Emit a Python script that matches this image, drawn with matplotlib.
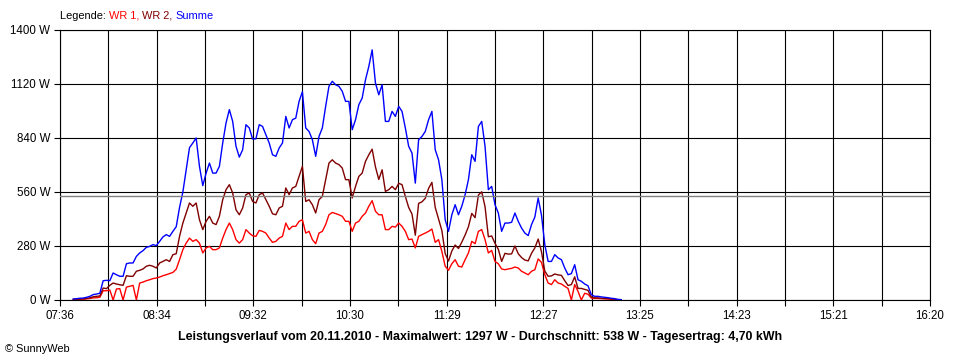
import matplotlib
matplotlib.use("Agg")
import matplotlib.pyplot as plt
import numpy as np

# ---------------- data ----------------
START_MIN = 7 * 60 + 44   # first sample 07:44
STEP_MIN = 2              # sampling interval (minutes)

summe = [5, 7, 9, 10, 14, 19, 28, 31, 35,
         100, 102, 100, 140, 131, 123, 123, 188, 192, 192, 226, 244, 256, 273, 278, 287, 282, 304, 327, 339, 330, 356, 380,
         480, 560, 675, 790, 814, 840, 693, 593, 658, 710, 658, 658, 693, 814, 918, 987, 926, 797, 741, 779, 909, 892, 835, 836,
         909, 900, 857, 814, 753, 745, 788, 814, 952, 892, 935,
         943, 1030, 1080, 892, 874, 831, 745, 848, 892, 1004, 1108, 1134, 1116, 1108, 1082, 1030, 1030, 883, 935, 1013, 1047,
         1142, 1211, 1297, 1125, 1064, 1116, 926, 926, 978, 952, 1004, 978, 892, 797,
         762, 606, 831, 848, 874, 935, 978, 779, 727, 624, 416, 356, 442, 494, 442, 486, 546, 624, 753, 719, 900, 926, 797,
         572, 589, 494, 451, 356, 399, 399, 403, 451, 408, 373,
         347, 334, 391, 430, 529, 440, 287, 200, 200, 235, 218, 209, 166, 131, 137, 183, 105, 97, 83, 74, 28, 19, 19, 16,
         14, 12, 9, 7, 3, 2]

wr1 = [2, 3, 4, 4, 6, 8, 11, 12, 14,
       48, 48, 52, 0, 57, 59, 0, 67, 71, 76, 0, 88, 93, 100, 105, 111, 114, 119, 126, 131, 137, 143, 160,
       209, 261, 295, 321, 304, 313, 295, 244, 270, 278, 261, 261, 270, 321, 365, 399, 365, 313, 295, 313, 365, 347, 333,
       330, 361, 356, 347, 321, 299, 304, 321, 330, 399, 365, 382,
       382, 408, 416, 347, 356, 313, 292, 347, 356, 391, 442, 454, 448, 442, 434, 408, 408, 356, 399, 408, 434, 451, 486,
       515, 460, 442, 442, 365, 365, 382, 378, 399, 382, 356, 313,
       316, 270, 330, 339, 347, 356, 368, 299, 313, 252, 175, 154, 188, 209, 175, 171, 209, 244, 304, 292, 356, 365, 313,
       244, 257, 200, 188, 161, 157, 161, 164, 171, 166, 149,
       140, 131, 149, 157, 213, 195, 131, 88, 80, 105, 88, 83, 71, 60, 0, 80, 45, 0, 35, 30, 10, 8, 8, 7, 6, 5, 4, 3, 1, 1]

wr2 = [3, 4, 5, 6, 8, 11, 17, 19, 21,
       62, 59, 76, 88, 83, 79, 76, 126, 123, 123, 149, 154, 161, 175, 180, 175, 166, 192, 200, 209, 200, 235, 240,
       330, 399, 451, 503, 486, 503, 416, 365, 408, 434, 399, 391, 434, 520, 572, 598, 555, 468, 442, 477, 546, 555, 511,
       503, 546, 555, 520, 486, 447, 442, 477, 486, 581, 546, 581,
       589, 641, 693, 511, 520, 494, 451, 520, 537, 624, 710, 727, 710, 702, 684, 624, 624, 529, 589, 641, 658, 719, 753,
       782, 690, 625, 675, 563, 572, 589, 572, 605, 598, 537, 480,
       446, 336, 501, 509, 527, 579, 610, 480, 420, 360, 241, 202, 254, 285, 267, 300, 337, 380, 449, 427, 544, 561, 484,
       328, 332, 294, 263, 200, 242, 238, 239, 280, 240, 220,
       207, 203, 242, 270, 316, 250, 150, 123, 125, 135, 130, 128, 100, 75, 80, 120, 60, 60, 55, 50, 15, 11, 11, 9, 8, 7,
       5, 4, 2, 1]

x_labels = ["07:36", "08:34", "09:32", "10:30", "11:29", "12:27", "13:25", "14:23", "15:21", "16:20"]
x_start_min = 7 * 60 + 36
x_end_min = 16 * 60 + 20
y_ticks = [0, 280, 560, 840, 1120, 1400]
y_labels = ["0 W", "280 W", "560 W", "840 W", "1120 W", "1400 W"]
average_w = 538
footer = ("Leistungsverlauf vom 20.11.2010 - Maximalwert: 1297 W - "
          "Durchschnitt: 538 W - Tagesertrag: 4,70 kWh")

# ---------------- style ----------------
plt.rcParams["font.family"] = ["Liberation Sans", "DejaVu Sans"]
FS = 8.3
C_WR1 = "#ff0000"
C_WR2 = "#800000"
C_SUM = "#0000ff"

W, H = 960, 360
fig = plt.figure(figsize=(W / 100, H / 100), dpi=100)
fig.patch.set_facecolor("white")
ax = fig.add_axes([60 / W, 60 / H, 870 / W, 270 / H])

times = START_MIN + STEP_MIN * np.arange(len(summe))

lw_grid = 0.8
major = np.linspace(x_start_min, x_end_min, len(x_labels))
minor = np.linspace(x_start_min, x_end_min, 2 * (len(x_labels) - 1) + 1)
for xv in minor:
    ax.axvline(xv, color="black", lw=lw_grid, zorder=1)
for yv in y_ticks:
    ax.axhline(yv, color="black", lw=lw_grid, zorder=1)

ax.plot(times, wr1, color=C_WR1, lw=1.0, zorder=3)
ax.plot(times, wr2, color=C_WR2, lw=1.0, zorder=3)
ax.plot(times, summe, color=C_SUM, lw=1.0, zorder=4)
ax.axhline(average_w, color="#808080", lw=1.0, zorder=5)

ax.set_xlim(x_start_min, x_end_min)
ax.set_ylim(0, 1400)
ax.set_xticks(major)
ax.set_xticklabels(x_labels, fontsize=FS)
ax.set_xticks(minor, minor=True)
ax.set_yticks(y_ticks)
ax.set_yticklabels(y_labels, fontsize=FS)
ax.tick_params(axis="both", which="both", direction="out", length=4, width=lw_grid, color="black", pad=3)
for s in ax.spines.values():
    s.set_linewidth(lw_grid)
    s.set_color("black")

# footer texts
fig.text(0.5, 1 - 337 / H, footer, ha="center", va="center", fontsize=8.9, fontweight="bold")
fig.text(5 / W, 1 - 349 / H, "\u00a9 SunnyWeb", ha="left", va="center", fontsize=7.9)

# legend line made of coloured pieces
fig.canvas.draw()
renderer = fig.canvas.get_renderer()
x_px = 60
for txt, col in [("Legende: ", "black"), ("WR 1, ", C_WR1), ("WR 2, ", C_WR2), ("Summe", C_SUM)]:
    t = fig.text(x_px / W, 1 - 16 / H, txt, ha="left", va="center", fontsize=7.9, color=col)
    bb = t.get_window_extent(renderer)
    x_px += bb.width

fig.savefig("out.png", dpi=100, facecolor="white")
